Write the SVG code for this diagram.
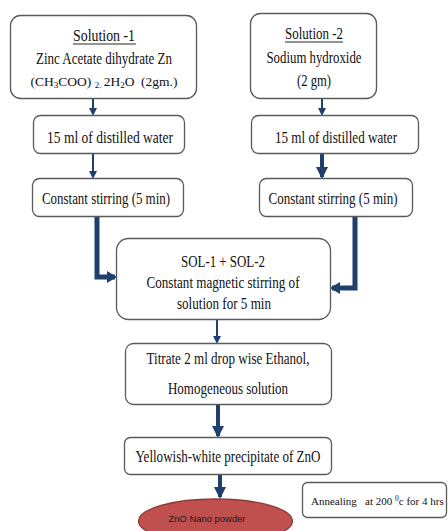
<svg xmlns="http://www.w3.org/2000/svg" width="448" height="531" viewBox="0 0 448 531">
<style>
.box{fill:#fff;stroke:#5a5a5a;stroke-width:1.3}
.t{font-family:"Liberation Serif","Times New Roman",serif;font-size:16px;fill:#111;text-anchor:middle}
.thin{fill:none;stroke:#1F3F6E;stroke-width:2;marker-end:url(#ah)}
.thick{fill:none;stroke:#1F3F6E;stroke-width:4;marker-end:url(#ah2)}
.elbow{fill:none;stroke:#1F3F6E;stroke-width:5;stroke-linejoin:miter;marker-end:url(#ah3)}
</style>
<defs>
<marker id="ah" markerWidth="4" markerHeight="4" refX="3" refY="2" orient="auto" markerUnits="strokeWidth"><path d="M0,0 L4,2 L0,4 Z" fill="#1F3F6E"/></marker>
<marker id="ah2" markerWidth="3" markerHeight="3" refX="2.5" refY="1.5" orient="auto" markerUnits="strokeWidth"><path d="M0,0 L3,1.5 L0,3 Z" fill="#1F3F6E"/></marker>
<marker id="ah3" markerWidth="2" markerHeight="2.4" refX="1.6" refY="1.2" orient="auto" markerUnits="strokeWidth"><path d="M0,0 L2,1.2 L0,2.4 Z" fill="#1F3F6E"/></marker>
</defs>

<g id="connectors">
<line class="thin" x1="93" y1="99" x2="93" y2="114"/>
<line class="thin" x1="322" y1="99" x2="322" y2="114"/>
<line class="thin" x1="93" y1="154" x2="93" y2="177"/>
<line class="thick" x1="322" y1="154" x2="322" y2="177"/>
<polyline class="elbow" points="97,216 97,277 115,277"/>
<polyline class="elbow" points="355,217 355,288 332,288"/>
<line class="thin" x1="217" y1="319" x2="217" y2="342"/>
<line class="thick" x1="218" y1="404" x2="218" y2="436"/>
<line class="thick" x1="220" y1="474" x2="220" y2="497"/>
</g>

<g id="sol1">
<rect class="box" x="10.5" y="15.5" width="186" height="83" rx="10"/>
<text class="t" x="104" y="41" textLength="62" lengthAdjust="spacingAndGlyphs">Solution -1</text>
<line x1="73" y1="44" x2="136" y2="44" stroke="#111" stroke-width="0.9"/>
<text class="t" x="104" y="64" textLength="136" lengthAdjust="spacingAndGlyphs">Zinc Acetate dihydrate Zn</text>
<text class="t" x="104" y="86" style="white-space:pre;font-size:13.5px">(CH<tspan font-size="9" dy="2">3</tspan><tspan dy="-2">COO) </tspan><tspan font-size="9" dy="2">2. </tspan><tspan dy="-2">2H</tspan><tspan font-size="9" dy="2">2</tspan><tspan dy="-2">O  (2gm.)</tspan></text>
</g>

<g id="sol2">
<rect class="box" x="250.5" y="13.5" width="126" height="85" rx="10"/>
<text class="t" x="314" y="39" textLength="58" lengthAdjust="spacingAndGlyphs">Solution -2</text>
<line x1="285" y1="42" x2="343" y2="42" stroke="#111" stroke-width="0.9"/>
<text class="t" x="314" y="63" textLength="95" lengthAdjust="spacingAndGlyphs">Sodium hydroxide</text>
<text class="t" x="314" y="86" textLength="34" lengthAdjust="spacingAndGlyphs">(2 gm)</text>
</g>

<g id="water1">
<rect class="box" x="33.5" y="115.5" width="151" height="38" rx="7"/>
<text class="t" x="110" y="143" textLength="126" lengthAdjust="spacingAndGlyphs">15 ml of distilled water</text>
</g>

<g id="water2">
<rect class="box" x="251.5" y="115.5" width="167" height="38" rx="7"/>
<text class="t" x="336" y="143" textLength="122" lengthAdjust="spacingAndGlyphs">15 ml of distilled water</text>
</g>

<g id="stir1">
<rect class="box" x="32.5" y="178.5" width="151" height="38" rx="7"/>
<text class="t" x="106" y="204" textLength="128" lengthAdjust="spacingAndGlyphs">Constant stirring (5 min)</text>
</g>

<g id="stir2">
<rect class="box" x="259.5" y="178.5" width="153" height="38" rx="7"/>
<text class="t" x="333" y="204" textLength="129" lengthAdjust="spacingAndGlyphs">Constant stirring (5 min)</text>
</g>

<g id="mix">
<rect class="box" x="116.5" y="238.5" width="214" height="81" rx="12"/>
<text class="t" x="223" y="267" textLength="84" lengthAdjust="spacingAndGlyphs">SOL-1 + SOL-2</text>
<text class="t" x="223" y="288" textLength="153" lengthAdjust="spacingAndGlyphs">Constant magnetic stirring of</text>
<text class="t" x="224" y="309" textLength="94" lengthAdjust="spacingAndGlyphs">solution for 5 min</text>
</g>

<g id="titrate">
<rect class="box" x="125.5" y="343.5" width="206" height="61" rx="8"/>
<text class="t" x="228" y="364" textLength="163" lengthAdjust="spacingAndGlyphs">Titrate 2 ml drop wise Ethanol,</text>
<text class="t" x="228" y="394" textLength="120" lengthAdjust="spacingAndGlyphs">Homogeneous solution</text>
</g>

<g id="precipitate">
<rect class="box" x="124.5" y="437.5" width="207" height="37" rx="6"/>
<text class="t" x="228" y="462" textLength="185" lengthAdjust="spacingAndGlyphs">Yellowish-white precipitate of ZnO</text>
</g>

<g id="annealing">
<rect class="box" x="302.5" y="482.5" width="144" height="35" rx="5"/>
<text class="t" x="311" y="505" style="text-anchor:start;white-space:pre;font-size:11px">Annealing   at 200 <tspan font-size="7.5" dy="-4">0</tspan><tspan dy="4">c for 4 hrs</tspan></text>
</g>

<g id="powder">
<ellipse cx="215.5" cy="521" rx="77" ry="22" fill="#C0504D" stroke="#8C3A38" stroke-width="1.3"/>
<text x="207" y="522" font-family="'Liberation Sans',Arial,sans-serif" font-size="9.5" fill="#1a1a1a" text-anchor="middle" textLength="77" lengthAdjust="spacingAndGlyphs">ZnO Nano powder</text>
</g>
</svg>
